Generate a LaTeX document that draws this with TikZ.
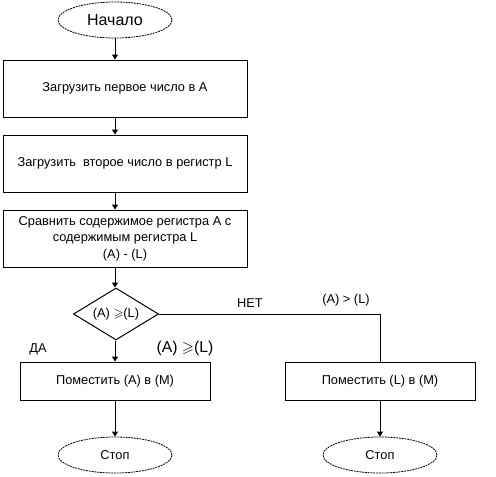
\documentclass[tikz,border=0pt]{standalone}
\usepackage{amsmath, amssymb}
\usepackage{fontspec}
\setmainfont{Liberation Sans}
\usetikzlibrary{arrows.meta, shapes.geometric}

\tikzset{
    block/.style={draw, line width=1pt, rectangle, inner sep=0pt, align=center, font=\fontsize{12.8}{16.5}\selectfont},
    term/.style={draw, line width=0.8pt, ellipse, dash pattern=on 2pt off 0.8pt, inner sep=0pt, minimum width=114pt, minimum height=36pt, font=\fontsize{12.8}{14}\selectfont},
    decide/.style={draw, line width=1pt, diamond, aspect=1.63, inner sep=0pt, minimum width=85pt, minimum height=52pt, font=\fontsize{12.8}{14}\selectfont},
    arr/.style={line width=1pt, -{Triangle[length=5pt,width=6pt]}},
    lbl/.style={inner sep=0pt, font=\fontsize{12.8}{14}\selectfont}
}

\begin{document}
\begin{tikzpicture}[x=1pt, y=-1pt]
        \useasboundingbox (0,0) rectangle (496,477);

        % Draw terminals
        \node[term, font=\fontsize{16}{18}\selectfont] (start) at (115,20) {Начало};
        \node[term] (stopa) at (115,455) {Стоп};
        \node[term] (stopb) at (380,455) {Стоп};

        % Draw process blocks
        \node[block, minimum width=244pt, minimum height=57pt] (load1) at (125,88.5) {Загрузить первое число в А};
        \node[block, minimum width=244pt, minimum height=57pt] (load2) at (125,163.5) {Загрузить \ второе число в регистр L};
        \node[block, minimum width=244pt, minimum height=57pt] (cmp) at (125,238.5) {Сравнить содержимое регистра А с\\ содержимым регистра L\\ (A) - (L)};
        \node[block, minimum width=190pt, minimum height=38pt] (puta) at (115,381) {Поместить (A) в (M)};
        \node[block, minimum width=190pt, minimum height=38pt] (putb) at (380,381) {Поместить (L) в (M)};

        % Draw decision
        \node[decide] (test) at (116,314) {(A) $\geqslant$(L)};

        % Draw connectors
        \draw[arr] (start.south) -- (start.south |- load1.north);
        \draw[arr] (start.south |- load1.south) -- (start.south |- load2.north);
        \draw[arr] (start.south |- load2.south) -- (start.south |- cmp.north);
        \draw[arr] (start.south |- cmp.south) -- (start.south |- test.north);
        \draw[arr] (test.south -| start.south) -- (start.south |- puta.north);
        \draw[line width=1pt] (test.east) -- (test.east -| putb.north) -- (putb.north);
        \draw[arr] (puta.south) -- (stopa.north);
        \draw[arr] (putb.south) -- (stopb.north);

        % Branch labels
        \node[lbl] (yes) at (38,349) {ДА};
        \node[lbl, font=\fontsize{15.7}{18}\selectfont] (yescond) at (185,348) {(A) $\geqslant$(L)};
        \node[lbl] (no) at (250,303) {НЕТ};
        \node[lbl] (nocond) at (346,300) {(A) > (L)};

    \end{tikzpicture}
\end{document}
